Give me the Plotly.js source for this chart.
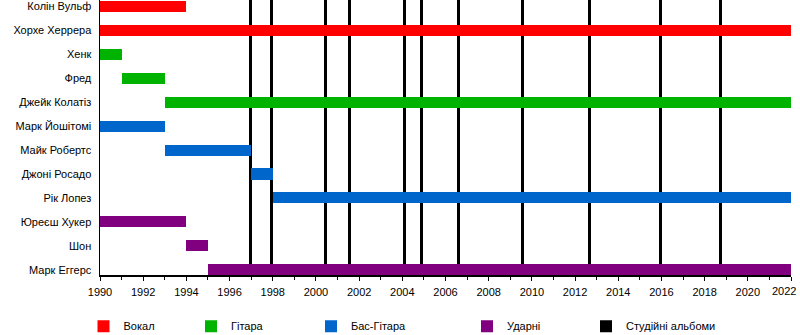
<!DOCTYPE html>
<html>
<head>
<meta charset="utf-8">
<script src="https://cdn.plot.ly/plotly-3.0.1.min.js"></script>
<style>html,body{margin:0;padding:0;background:#fff;}#chart{width:800px;height:335px;}</style>
</head>
<body>
<div id="chart"></div>
<script>
// Members (top to bottom), their role and active years
const members = ['Колін Вульф','Хорхе Херрера','Хенк','Фред','Джейк Колатіз','Марк Йошітомі','Майк Робертс','Джоні Росадо','Рік Лопез','Юреєш Хукер','Шон','Марк Еггерс'];
const memberRole = ['Вокал','Вокал','Гітара','Гітара','Гітара','Бас-Гітара','Бас-Гітара','Бас-Гітара','Бас-Гітара','Ударні','Ударні','Ударні'];
const startYear = [1990,1990,1990,1991,1993,1990,1993,1997,1998,1990,1994,1995];
const endYear   = [1994,2022,1991,1993,2022,1993,1997,1998,2022,1994,1995,2022];

// Studio album release dates (decimal years)
const albumYears = [1996.95,1997.96,2000.46,2001.56,2004.08,2004.91,2006.58,2009.55,2012.65,2015.94,2018.73];
const albumLabel = 'Студійні альбоми';

const roleNames  = ['Вокал','Гітара','Бас-Гітара','Ударні'];
const roleColors = ['#ff0000','#00b300','#0066cc','#800080'];

// x tick labels
const tickYears = [1990,1992,1994,1996,1998,2000,2002,2004,2006,2008,2010,2012,2014,2016,2018,2020,2022];
const lastYear = tickYears[tickYears.length - 1];
// the last label is drawn right-aligned (as in the reference) so it stays inside the picture
const tickText = tickYears.map(y => y === lastYear ? '' : String(y));

const plotLeft = 100, plotWidth = 691;
const legendSymbolCenters = [104,211.5,331.5,487.5,606.5];
const legendX = c => (c - 20.5 - plotLeft) / plotWidth;
const legendIds = ['legend','legend2','legend3','legend4','legend5'];

const traces = [];
// album lines (drawn first, behind the member bars)
traces.push({
  type:'bar', orientation:'v', name: albumLabel,
  x: albumYears, y: albumYears.map(() => 1), base: 0, width: 0.14,
  marker:{color:'#000000', line:{width:0}},
  xaxis:'x', yaxis:'y', legend:'legend5', hoverinfo:'skip'
});
roleNames.forEach((r, k) => {
  const idx = members.map((m,i)=>i).filter(i => memberRole[i] === r);
  traces.push({
    type:'bar', orientation:'h', name: r,
    y: idx.map(i => members[i]),
    x: idx.map(i => endYear[i] - startYear[i]),
    base: idx.map(i => startYear[i]),
    width: 0.46,
    marker:{color: roleColors[k], line:{width:0}},
    xaxis:'x', yaxis:'y2', legend: legendIds[k], hoverinfo:'skip'
  });
});

const legFont = {family:'Liberation Sans, Arial, sans-serif', size:11, color:'#000'};
const layout = {
  width:800, height:335,
  margin:{l:100, r:9, t:0, b:60, autoexpand:false},
  paper_bgcolor:'#fff', plot_bgcolor:'#fff',
  barmode:'overlay',
  bargap:0,
  font: legFont,
  showlegend:true,
  xaxis:{
    range:[1990,2022], tickvals: tickYears, ticktext: tickText,
    showgrid:false, zeroline:false, showline:true, linecolor:'#000', linewidth:1.5,
    ticks:'outside', ticklen:4, tickcolor:'#000', tickwidth:1,
    minor:{dtick:1, tick0:1990, ticks:'outside', ticklen:3, tickcolor:'#000', showgrid:false},
    ticklabelstandoff:2,
    tickfont: legFont, fixedrange:true, automargin:false
  },
  yaxis:{range:[0,1], visible:false, fixedrange:true},
  yaxis2:{
    overlaying:'y', side:'left', type:'category',
    categoryorder:'array', categoryarray: members,
    range:[11.22,-0.27],
    showgrid:false, zeroline:false, showline:true, linecolor:'#000', linewidth:1.5,
    ticks:'', ticklabelstandoff:5, tickfont: legFont, fixedrange:true, automargin:false
  },
  annotations:[{
    text: String(lastYear), x: lastYear, xref:'x', xanchor:'right', xshift:7,
    y: 0, yref:'paper', yanchor:'top', yshift:-8,
    showarrow:false, font: legFont
  }]
};
legendIds.forEach((id, k) => {
  layout[id] = {
    orientation:'h', x: legendX(legendSymbolCenters[k]), xanchor:'left',
    y: -0.186, yanchor:'middle', bgcolor:'rgba(0,0,0,0)', borderwidth:0,
    font: legFont, itemclick:false, itemdoubleclick:false
  };
});

Plotly.newPlot('chart', traces, layout, {staticPlot:true, displayModeBar:false});
</script>
</body>
</html>
